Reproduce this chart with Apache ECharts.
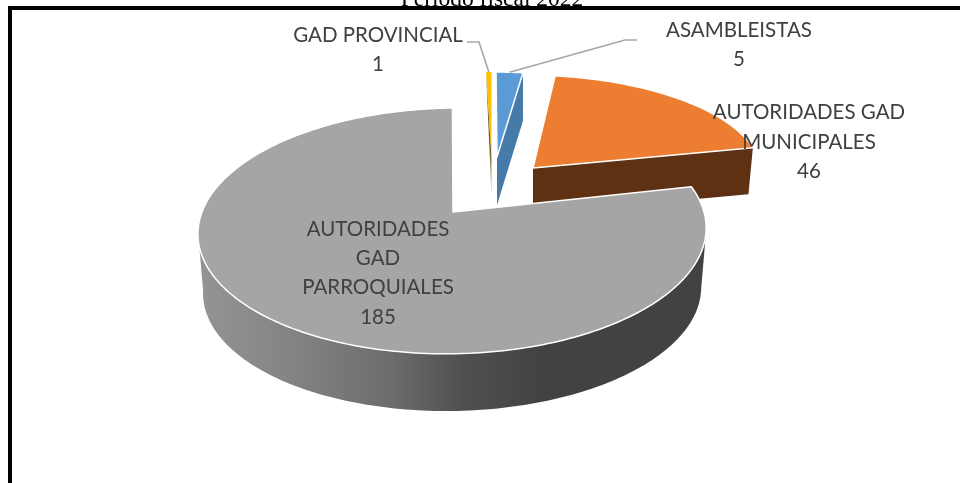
<!DOCTYPE html>
<html>
<head>
<meta charset="utf-8">
<style>html,body{margin:0;padding:0;background:#fff}#c{width:960px;height:483px}</style>
<script src="https://cdn.jsdelivr.net/npm/echarts@6/dist/echarts.min.js"></script>
</head>
<body>
<div id="c"></div>
<script>
// ---- data ----
const categories = ['ASAMBLEISTAS', 'AUTORIDADES GAD\nMUNICIPALES', 'AUTORIDADES\nGAD\nPARROQUIALES', 'GAD PROVINCIAL'];
const values = [5, 46, 185, 1];
const titleText = 'Período fiscal 2022';

// ---- style ----
const faceColors = ['#5b9bd5', '#ed7d31', '#a5a5a5', '#ffc000'];
const wallColors = ['#467aa8', '#5e3113', null, null];

// ---- layout: exploded 3D-pie projection of each slice ----
// tip = exploded slice apex, a/b = radii, s = shear, k = perspective, depth = wall height, wall = lower rim scale
const frames = [
  { tip: [497, 157], a: 204, b: 85, s: -1, k: 0, depth: 48, wall: 1 },
  { tip: [533, 168], a: 227, b: 93, s: -8, k: 0, depth: 46, wall: 0.98 },
  { tip: [453, 212], a: 251, b: 120, s: 6, k: 0.154, depth: 60, wall: 0.98 },
  { tip: [491.5, 157], a: 204, b: 85, s: 0, k: 0, depth: 40, wall: 1 }
];
const labelCenters = [[739, 45], [809, 142], [378, 273], [378, 50]];
const leaderElbows = [[[625, 40], [637, 40]], null, null, [[479, 42], [467, 42]]];
const LABEL_FONT = 'Lato, sans-serif';

const total = values.reduce((s, v) => s + v, 0);
const starts = [];
values.reduce((acc, v, i) => { starts[i] = acc; return acc + v; }, 0);
const rad = v => v / total * Math.PI * 2;

function project(f, theta, lower) {
  const u = Math.sin(theta), v = Math.cos(theta);
  const w = 1 + f.k * v;
  const sc = lower ? f.wall : 1;
  return [
    f.tip[0] + sc * (f.a * u + f.s * v) / w,
    f.tip[1] + (lower ? f.depth : 0) - sc * f.b * v / w
  ];
}
function arc(f, t0, t1, lower) {
  const n = Math.max(2, Math.ceil(Math.abs(t1 - t0) / 0.02));
  const pts = [];
  for (let i = 0; i <= n; i++) pts.push(project(f, t0 + (t1 - t0) * i / n, lower));
  return pts;
}

function renderItem(params, api) {
  const i = params.dataIndex;
  const value = api.value(1);
  const f = frames[i];
  const t0 = rad(starts[i]), t1 = t0 + rad(value);
  const tip = f.tip;
  const tipLow = [tip[0], tip[1] + f.depth];
  const children = [];

  if (i === 2) {
    // front wall of the big slice
    const tA = 99 * Math.PI / 180, tB = 261 * Math.PI / 180;
    const pts = arc(f, tA, tB, false).concat(arc(f, tB, tA, true));
    children.push({
      type: 'polygon', shape: { points: pts },
      style: {
        fill: new echarts.graphic.LinearGradient(0, 0, 1, 0, [
          { offset: 0, color: '#949494' },
          { offset: 0.2, color: '#828282' },
          { offset: 0.38, color: '#6c6c6c' },
          { offset: 0.52, color: '#505050' },
          { offset: 0.68, color: '#424242' },
          { offset: 1, color: '#424242' }
        ])
      }
    });
  } else if (i === 3) {
    // sliver wall of the thin slice
    children.push({
      type: 'polygon', shape: { points: [project(f, t0, false), tipLow, tip] },
      style: {
        fill: new echarts.graphic.LinearGradient(0, 0, 0, 1, [
          { offset: 0, color: '#5a4a14' },
          { offset: 0.6, color: '#6f5f28' },
          { offset: 1, color: '#e0d8c0' }
        ])
      }
    });
  } else {
    // cut-edge wall of the exploded slices
    children.push({
      type: 'polygon',
      shape: { points: [tip, project(f, t1, false), project(f, t1, true), tipLow] },
      style: { fill: wallColors[i] }
    });
  }

  // top face
  children.push({
    type: 'polygon',
    shape: { points: [tip].concat(arc(f, t0, t1, false)) },
    style: { fill: faceColors[i], stroke: '#ffffff', lineWidth: i === 3 ? 0 : 1.5, lineJoin: 'round' }
  });

  // leader line
  if (leaderElbows[i]) {
    const start = project(f, (t0 + t1) / 2, false);
    children.push({
      type: 'polyline',
      shape: { points: [start].concat(leaderElbows[i]) },
      style: { stroke: '#a6a6a6', lineWidth: 1.6, fill: null },
      z2: 5
    });
  }

  // data label
  children.push({
    type: 'text',
    z2: 10,
    style: {
      text: api.value(2) + '\n' + value,
      x: labelCenters[i][0],
      y: labelCenters[i][1],
      align: 'center',
      verticalAlign: 'middle',
      fill: '#404040',
      font: '20.5px ' + LABEL_FONT,
      lineHeight: 29.3
    }
  });
  return { type: 'group', children };
}

const chart = echarts.init(document.getElementById('c'), null, { renderer: 'canvas' });
chart.setOption({
  animation: false,
  backgroundColor: '#ffffff',
  title: {
    text: titleText,
    left: 487,
    top: -17,
    textAlign: 'center',
    textStyle: { fontFamily: 'Liberation Serif', fontSize: 23.5, fontWeight: 'normal', color: '#000' }
  },
  graphic: [{
    type: 'polyline',
    shape: { points: [[10, 483], [10, 8], [960, 8]] },
    style: { stroke: '#000', lineWidth: 4, fill: null, lineJoin: 'miter' },
    silent: true
  }],
  series: [{
    type: 'custom',
    coordinateSystem: 'none',
    renderItem,
    data: values.map((v, i) => [i, v, categories[i]]),
    dimensions: ['index', 'value', { name: 'name', type: 'ordinal' }],
    encode: { value: 1 },
    silent: true
  }]
});
</script>
</body>
</html>
